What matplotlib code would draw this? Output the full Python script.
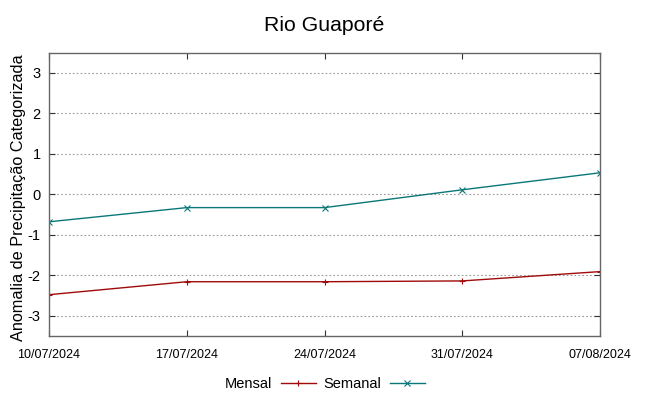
import matplotlib
matplotlib.use('Agg')
import matplotlib.pyplot as plt

plt.rcParams['font.family'] = ['Liberation Sans', 'DejaVu Sans']

datas = ['10/07/2024', '17/07/2024', '24/07/2024', '31/07/2024', '07/08/2024']
mensal = [-2.48, -2.16, -2.16, -2.14, -1.91]
semanal = [-0.68, -0.33, -0.33, 0.11, 0.53]
yticks = [-3, -2, -1, 0, 1, 2, 3]

fig = plt.figure(figsize=(6.49, 3.96), dpi=100)
ax = fig.add_axes([49 / 649, 60 / 396, 551 / 649, 283.5 / 396])

x = list(range(len(datas)))
ax.plot(x, mensal, color='#a00a0a', lw=1, marker='+', ms=5, mew=0.8, label='Mensal')
ax.plot(x, semanal, color='#0a7878', lw=1, marker='x', ms=4, mew=0.8, label='Semanal')

ax.set_xlim(0, len(datas) - 1)
ax.set_ylim(-3.5, 3.5)
ax.set_yticks(yticks)
ax.set_yticklabels([str(v) for v in yticks], fontsize=10.5)
ax.set_xticks(x)
ax.set_xticklabels(datas, fontsize=9)
ax.tick_params(direction='in', top=True, right=True, length=4, width=0.8, color='#333333')
ax.tick_params(axis='x', pad=9)
ax.tick_params(axis='y', pad=6)
ax.grid(axis='y', linestyle=(0, (1.5, 2)), color='#999999', lw=0.8)
for s in ax.spines.values():
    s.set_color('#666666')
    s.set_linewidth(1)

ax.set_ylabel('Anomalia de Precipitação Categorizada', fontsize=11.7)
ax.yaxis.set_label_coords(-0.041, 0.487)
fig.suptitle('Rio Guaporé', fontsize=15.3, y=0.96)

fig.legend(loc='lower center', bbox_to_anchor=(0.5, -0.02), ncol=2, frameon=False,
           markerfirst=False, fontsize=10.5, handlelength=2.4, columnspacing=0.5,
           handletextpad=0.6)

fig.savefig('out.png', dpi=100)
